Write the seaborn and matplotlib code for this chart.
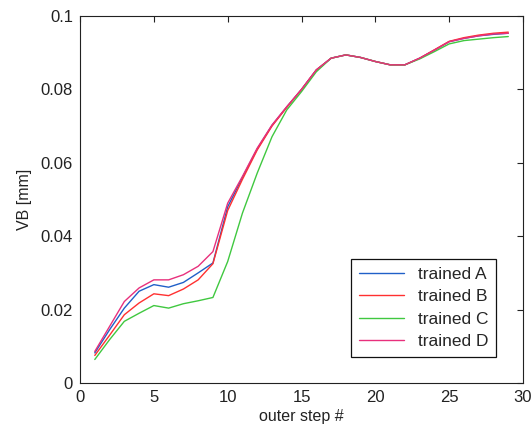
import matplotlib
matplotlib.use("Agg")
import matplotlib.pyplot as plt
import seaborn as sns
import pandas as pd
import numpy as np

steps = list(range(1, 30))
trained_A = [0.0082, 0.0145, 0.0204, 0.0250, 0.0268, 0.0261, 0.0274, 0.0300, 0.0327, 0.0480,
             0.0560, 0.0638, 0.0702, 0.0752, 0.0800, 0.0853, 0.0885, 0.0894, 0.0887, 0.0876,
             0.0867, 0.0867, 0.0885, 0.0907, 0.0930, 0.0939, 0.0946, 0.0950, 0.0953]
trained_B = [0.0075, 0.0130, 0.0186, 0.0218, 0.0243, 0.0238, 0.0256, 0.0281, 0.0325, 0.0470,
             0.0555, 0.0635, 0.0700, 0.0751, 0.0800, 0.0853, 0.0885, 0.0894, 0.0887, 0.0876,
             0.0867, 0.0867, 0.0885, 0.0908, 0.0931, 0.0941, 0.0948, 0.0953, 0.0956]
trained_C = [0.0064, 0.0118, 0.0168, 0.0190, 0.0211, 0.0204, 0.0216, 0.0224, 0.0233, 0.0331,
             0.0463, 0.0572, 0.0671, 0.0744, 0.0794, 0.0848, 0.0885, 0.0894, 0.0887, 0.0876,
             0.0867, 0.0867, 0.0883, 0.0903, 0.0924, 0.0933, 0.0937, 0.0941, 0.0944]
trained_D = [0.0086, 0.0154, 0.0222, 0.0259, 0.0281, 0.0281, 0.0295, 0.0318, 0.0358, 0.0490,
             0.0563, 0.0640, 0.0703, 0.0753, 0.0800, 0.0853, 0.0885, 0.0894, 0.0887, 0.0876,
             0.0867, 0.0867, 0.0885, 0.0907, 0.0930, 0.0939, 0.0946, 0.0951, 0.0953]
series_names = ["trained A", "trained B", "trained C", "trained D"]
colors = ["#2060c8", "#ff3030", "#40c840", "#e8307c"]

df = pd.DataFrame({"step": steps * 4,
                   "VB": trained_A + trained_B + trained_C + trained_D,
                   "series": sum([[n] * len(steps) for n in series_names], [])})

sns.set_style("white")
plt.rcParams["font.family"] = ["Liberation Sans", "DejaVu Sans"]
fig = plt.figure(figsize=(5.31, 4.36), dpi=100)
ax = fig.add_axes([0.1507, 0.1216, 0.8343, 0.8417])
sns.lineplot(data=df, x="step", y="VB", hue="series", palette=colors, ax=ax,
             linewidth=1.0, legend=True)
ax.set_xlim(0, 30)
ax.set_ylim(0, 0.1)
ax.set_xticks([0, 5, 10, 15, 20, 25, 30])
ax.set_yticks([0, 0.02, 0.04, 0.06, 0.08, 0.1])
ax.set_yticklabels(["0", "0.02", "0.04", "0.06", "0.08", "0.1"])
ax.tick_params(direction="in", length=4, width=0.8, labelsize=12, top=True, right=True,
               colors="#222222", pad=5)
for s in ax.spines.values():
    s.set_color("#222222")
    s.set_linewidth(0.8)
ax.set_xlabel("outer step #", fontsize=11.5, color="#222222", labelpad=3)
ax.set_ylabel("VB [mm]", fontsize=11.5, color="#222222", labelpad=6)
leg = ax.legend(loc="lower right", bbox_to_anchor=(0.939, 0.071), borderaxespad=0,
                fontsize=12.5, frameon=True,
                fancybox=False, edgecolor="#111111", framealpha=1, handlelength=2.6,
                labelspacing=0.42, borderpad=0.45, handletextpad=0.8)
leg.get_frame().set_linewidth(0.9)
fig.savefig("out.png", dpi=100)
